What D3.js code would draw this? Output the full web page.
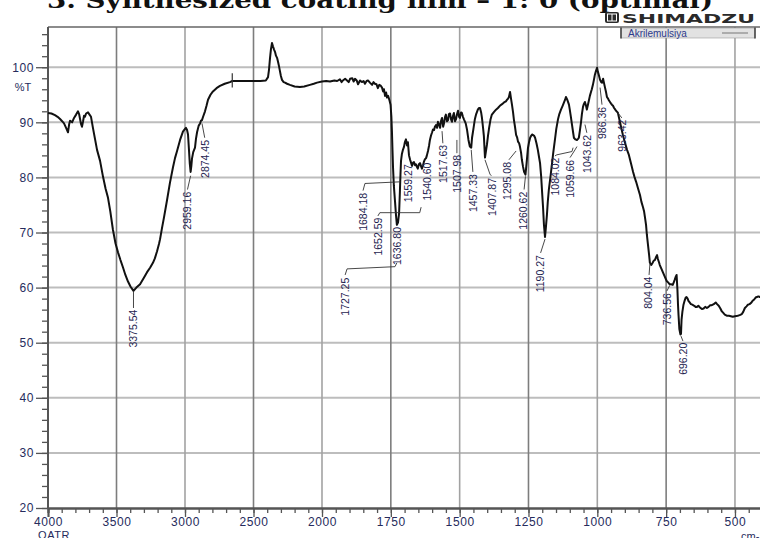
<!DOCTYPE html>
<html><head><meta charset="utf-8">
<script src="https://cdn.jsdelivr.net/npm/d3@7"></script>
<style>
html,body{margin:0;padding:0;background:#fff;}
svg{display:block;}
</style></head>
<body>
<svg id="c" width="760" height="538"></svg>
<script>
// ---------- DATA ----------
const title = "3. Synthesized coating film \u2013 1: 0 (optimal)";
const seriesName = "Akrilemulsiya";
const xMajorTicks = [4000,3500,3000,2500,2000,1750,1500,1250,1000,750,500];
const xMinorTicksHigh = d3.range(4000, 2000, -100);
const xMinorTicksLow = d3.range(2000, 400, -50);
const yMajorTicks = [20,30,40,50,60,70,80,90,100];
const yMinorTicks = d3.range(20, 107, 2);
const xUnitLeft = "QATR";
const xUnitRight = "cm-1";
const yUnit = "%T";
const markerWn = [2655, 96.3, 98.9];

const spectrum = [
[4000,91.7],[3975,91.6],[3949,91.3],[3930,91.0],[3912,90.6],[3897,90.2],[3883,89.8],[3868,89.0],[3854,88.2],[3846,89.6],[3839,90.3],[3824,90.0],[3810,90.8],[3795,91.4],[3781,92.0],[3773,91.5],[3766,90.6],[3759,89.7],[3752,89.2],[3744,90.2],[3737,91.2],[3730,91.0],[3722,91.6],[3708,91.8],[3697,91.4],[3686,91.0],[3679,90.0],[3672,89.0],[3657,87.0],[3642,85.0],[3620,83.0],[3599,80.2],[3580,78.0],[3562,76.3],[3545,73.8],[3526,70.5],[3507,68.0],[3489,66.4],[3471,65.0],[3453,63.7],[3435,62.3],[3416,61.1],[3398,60.2],[3376,59.4],[3355,60.0],[3328,60.6],[3300,61.8],[3277,62.8],[3255,63.6],[3234,64.5],[3220,65.3],[3204,66.6],[3190,67.9],[3182,68.8],[3168,70.8],[3153,72.8],[3131,75.9],[3110,79.0],[3088,81.8],[3073,83.5],[3058,84.8],[3036,86.8],[3015,88.3],[3000,88.8],[2993,89.0],[2985,88.6],[2978,87.8],[2971,85.0],[2965,82.5],[2959,81.0],[2954,82.0],[2949,83.4],[2940,84.6],[2927,85.4],[2920,87.0],[2912,88.2],[2900,89.4],[2890,89.8],[2883,90.3],[2876,90.4],[2868,91.0],[2854,92.0],[2843,93.0],[2832,94.1],[2814,95.0],[2796,95.6],[2770,96.2],[2745,96.6],[2710,97.0],[2672,97.3],[2655,97.5],[2620,97.5],[2562,97.5],[2500,97.5],[2450,97.5],[2410,97.6],[2394,98.2],[2387,99.5],[2380,101.5],[2373,103.2],[2365,104.4],[2358,103.8],[2350,103.2],[2343,102.8],[2336,102.1],[2328,101.7],[2321,101.0],[2314,100.2],[2307,99.3],[2300,98.4],[2292,97.7],[2280,97.3],[2270,97.2],[2255,97.0],[2234,96.8],[2200,96.5],[2161,96.4],[2130,96.5],[2088,96.8],[2060,97.0],[2036,97.2],[2000,97.4],
[1985,97.5],[1971,97.4],[1955,97.6],[1945,97.5],[1935,97.8],[1929,97.3],[1924,97.6],[1916,97.9],[1909,97.6],[1903,97.3],[1898,97.9],[1890,98.0],[1885,97.4],[1880,97.9],[1874,97.6],[1869,96.9],[1862,97.6],[1855,97.3],[1849,97.5],[1844,97.0],[1838,97.5],[1833,97.6],[1826,97.2],[1818,96.8],[1813,97.3],[1808,97.0],[1802,96.9],[1797,96.2],[1792,96.8],[1786,96.6],[1782,96.3],[1778,95.6],[1775,96.0],[1771,94.8],[1767,95.4],[1764,94.5],[1760,94.8],[1755,94.0],[1751,93.2],[1748,91.0],[1746,88.4],[1744,85.0],[1742,81.8],[1739,78.5],[1735,75.8],[1731,73.0],[1728,71.4],[1724,71.8],[1720,73.5],[1717,77.5],[1715,80.5],[1713,83.0],[1710,84.2],[1706,85.0],[1702,85.6],[1699,86.4],[1695,86.9],[1691,85.8],[1688,86.4],[1686,85.2],[1684,84.0],[1680,83.2],[1676,82.6],[1673,82.1],[1669,82.7],[1666,82.8],[1662,82.2],[1659,82.4],[1655,81.9],[1652,81.6],[1648,82.4],[1644,82.6],[1640,82.0],[1637,81.6],[1633,82.2],[1630,82.8],[1626,83.3],[1622,83.5],[1619,84.0],[1615,84.8],[1611,85.8],[1608,86.8],[1604,87.6],[1600,88.2],[1597,88.7],[1593,88.6],[1590,89.2],[1586,89.5],[1582,89.0],[1579,90.1],[1575,89.6],[1571,89.0],[1568,90.2],[1564,90.8],[1560,89.2],[1557,89.8],[1553,91.0],[1550,91.4],[1546,90.2],[1542,90.4],[1539,91.5],[1535,91.6],[1531,90.5],[1528,90.1],[1524,91.2],[1521,91.7],[1517,90.2],[1513,90.6],[1510,91.4],[1506,92.1],[1502,91.0],[1499,90.8],[1495,91.8],[1492,91.7],[1488,91.0],[1484,90.5],[1478,89.8],[1473,88.6],[1468,86.8],[1463,85.6],[1458,85.4],[1455,87.2],[1450,88.8],[1445,90.5],[1440,91.5],[1434,92.3],[1430,92.6],[1426,92.6],[1422,91.8],[1419,90.8],[1415,89.0],[1412,87.5],[1408,83.6],[1405,84.6],[1401,85.9],[1397,87.6],[1393,89.0],[1388,90.5],[1383,91.4],[1375,91.9],[1368,92.3],[1361,92.6],[1354,93.0],[1346,93.3],[1339,93.6],[1332,93.8],[1328,94.1],[1324,94.3],[1321,94.6],[1317,95.5],[1314,94.5],[1310,93.2],[1306,91.8],[1303,90.5],[1299,89.2],[1295,87.7],[1291,87.2],[1288,86.5],[1284,86.2],[1281,85.6],[1277,84.5],[1274,83.2],[1270,82.0],[1266,81.0],[1261,80.5],[1257,82.5],[1252,85.3],[1248,86.4],[1244,87.2],[1241,87.5],[1237,87.8],[1234,87.7],[1230,87.6],[1226,87.2],[1221,86.2],[1216,85.0],[1212,83.8],[1208,82.6],[1204,80.2],[1201,77.7],[1197,74.5],[1194,71.5],[1190,69.2],[1187,70.8],[1183,73.2],[1180,75.5],[1176,77.8],[1170,80.2],[1165,82.3],[1160,84.5],[1154,86.8],[1149,88.8],[1143,90.5],[1138,91.5],[1132,92.3],[1126,93.0],[1121,93.6],[1117,94.1],[1114,94.6],[1110,94.2],[1107,93.8],[1103,93.2],[1100,92.3],[1096,91.0],[1092,89.6],[1088,88.2],[1085,87.2],[1080,86.9],[1074,86.8],[1070,87.0],[1067,87.2],[1063,88.6],[1059,90.1],[1056,91.5],[1052,92.8],[1049,93.3],[1045,93.7],[1041,93.0],[1038,92.3],[1034,93.2],[1030,94.1],[1027,94.8],[1023,95.5],[1020,96.0],[1016,96.8],[1012,97.8],[1009,98.6],[1005,99.3],[1001,99.9],[998,99.2],[994,98.5],[990,97.7],[986,97.3],[983,97.2],[979,97.9],[976,97.2],[972,96.3],[968,95.4],[965,94.6],[961,94.3],[958,94.0],[954,93.7],[950,93.4],[947,93.2],[943,93.0],[939,92.6],[936,92.4],[932,92.1],[928,91.9],[925,91.7],[921,90.8],[918,90.1],[912,88.8],[907,87.7],[900,86.4],[892,85.0],[886,84.2],[881,83.2],[876,82.2],[870,81.0],[865,80.1],[859,79.2],[852,78.0],[845,76.8],[840,75.6],[834,74.6],[830,73.8],[827,72.8],[823,71.4],[820,69.6],[816,67.8],[812,66.0],[809,64.5],[804,64.1],[799,64.5],[795,64.9],[791,65.0],[787,65.5],[783,65.9],[780,65.2],[776,64.6],[773,64.1],[767,63.4],[762,62.8],[755,62.0],[748,61.2],[742,60.9],[737,60.6],[732,60.6],[726,60.5],[722,61.0],[719,61.4],[715,62.0],[712,62.3],[709,59.6],[707,57.0],[705,55.0],[702,52.5],[698,51.5],[696,51.6],[694,54.2],[691,55.6],[687,56.9],[683,57.6],[679,58.2],[676,58.3],[672,58.0],[669,57.6],[666,57.4],[660,57.0],[655,56.9],[648,56.7],[643,56.5],[638,56.5],[633,56.7],[627,56.4],[620,56.1],[614,56.2],[608,56.5],[602,56.3],[596,56.5],[590,56.8],[584,56.8],[577,57.0],[570,57.3],[565,57.0],[559,56.7],[553,56.2],[548,55.7],[544,55.5],[537,55.1],[530,54.9],[522,54.9],[515,54.8],[508,54.7],[500,54.8],[490,54.9],[483,55.0],[475,55.2],[470,55.6],[464,56.3],[458,56.6],[453,56.9],[447,57.0],[442,57.2],[436,57.6],[431,57.8],[425,58.2],[420,58.3],[415,58.4],[410,58.3],[405,58.4]
];

// peak labels: text, label position (wavenumber, %T at text top), leader path
const peakLabels = [
 {text:"3375.54", lx:3378, ly:56.0, leader:[[3376,59.4],[3376,56.3]]},
 {text:"2959.16", lx:2985, ly:77.4, leader:[[2959,80.3],[2982,77.8]]},
 {text:"2874.45", lx:2854, ly:86.8, leader:[[2876,89.8],[2856,87.2]]},
 {text:"1727.25", lx:1916, ly:61.8, leader:[[1728,64.5],[1735,63.8],[1909,63.4],[1916,62.3]]},
 {text:"1684.18", lx:1851, ly:77.2, leader:[[1716,79.2],[1844,78.9],[1851,77.6]]},
 {text:"1652.59", lx:1797, ly:72.7, leader:[[1640,74.6],[1645,73.6],[1790,73.6],[1797,73.0]]},
 {text:"1636.80", lx:1728, ly:71.0, leader:[]},
 {text:"1559.27", lx:1688, ly:82.4, leader:[]},
 {text:"1540.60", lx:1619, ly:82.7, leader:[]},
 {text:"1517.63", lx:1561, ly:85.9, leader:[[1564,88.4],[1561,86.2]]},
 {text:"1507.98", lx:1510, ly:84.1, leader:[[1510,86.8],[1510,84.4]]},
 {text:"1457.33", lx:1452, ly:80.6, leader:[[1458,85.0],[1452,81.0]]},
 {text:"1407.87", lx:1383, ly:79.9, leader:[[1408,83.2],[1390,80.6],[1385,80.3]]},
 {text:"1295.08", lx:1328, ly:82.8, leader:[[1295,84.8],[1321,83.2]]},
 {text:"1260.62", lx:1270, ly:77.4, leader:[[1261,80.2],[1266,77.8]]},
 {text:"1190.27", lx:1208, ly:65.9, leader:[[1190,68.8],[1206,66.3]]},
 {text:"1084.02", lx:1154, ly:83.6, leader:[[1088,85.4],[1092,84.7],[1147,84.1],[1154,83.9]]},
 {text:"1059.66", lx:1099, ly:83.2, leader:[[1074,85.6],[1081,85.0],[1099,83.6]]},
 {text:"1043.62", lx:1038, ly:87.7, leader:[[1045,89.6],[1038,88.1]]},
 {text:"986.36", lx:983, ly:92.8, leader:[[990,96.3],[983,93.2]]},
 {text:"963.42", lx:911, ly:90.5, leader:[[925,91.7],[911,90.8]]},
 {text:"804.04", lx:816, ly:62.0, leader:[[809,64.3],[812,62.3]]},
 {text:"736.56", lx:747, ly:59.0, leader:[[737,60.4],[747,59.4]]},
 {text:"696.20", lx:689, ly:50.0, leader:[[696,51.2],[689,50.3]]}
];

// ---------- LAYOUT ----------
const svg = d3.select("#c");
const L = 48, R = 762.5, T = 27, B = 508;
const x = d3.scaleLinear().domain([4000, 2000, 400]).range([L, 322, R]);
const y = d3.scaleLinear().domain([20, 107.3]).range([B, T]);
const labelColor = "#262b5c";

// grid
const grid = svg.append("g");
grid.selectAll("line.h").data(yMajorTicks.filter(d => d > 20)).enter().append("line")
  .attr("x1", L).attr("x2", 760).attr("y1", d => y(d)).attr("y2", d => y(d))
  .attr("stroke", "#bdbdbd").attr("stroke-width", 2);
grid.selectAll("line.v").data(xMajorTicks.slice(1)).enter().append("line")
  .attr("x1", d => x(d)).attr("x2", d => x(d)).attr("y1", T).attr("y2", B)
  .attr("stroke", (d, i) => (i % 2 === 0 ? "#7d7d7d" : "#a2a2a2")).attr("stroke-width", 1.6);

// frame top
svg.append("line").attr("x1", L).attr("x2", 760).attr("y1", T).attr("y2", T)
  .attr("stroke", "#666").attr("stroke-width", 1.5);

// axes
function styleAxis(g) {
  g.select(".domain").attr("stroke", "#555").attr("stroke-width", 2);
  g.selectAll(".tick line").attr("stroke", "#555").attr("stroke-width", 1.3);
  g.selectAll("text").attr("fill", labelColor)
    .style("font-family", "'Liberation Sans', Arial, sans-serif")
    .style("font-size", "12px").style("letter-spacing", "0.6px");
}
const xMinor = svg.append("g").attr("transform", `translate(0,${B})`)
  .call(d3.axisBottom(x).tickValues(xMinorTicksHigh.concat(xMinorTicksLow)).tickSize(5).tickFormat(""));
styleAxis(xMinor);
const xAxis = svg.append("g").attr("transform", `translate(0,${B})`)
  .call(d3.axisBottom(x).tickValues(xMajorTicks).tickSize(9).tickPadding(0).tickFormat(d3.format("d")));
styleAxis(xAxis);

const yMinor = svg.append("g").attr("transform", `translate(${L},0)`)
  .call(d3.axisLeft(y).tickValues(yMinorTicks).tickSize(6).tickFormat(""));
styleAxis(yMinor);
yMinor.select(".domain").attr("d", `M0,${T}V${B}`);
const yAxis = svg.append("g").attr("transform", `translate(${L},0)`)
  .call(d3.axisLeft(y).tickValues(yMajorTicks).tickSize(12).tickPadding(2));
styleAxis(yAxis);
yAxis.select(".domain").attr("d", `M0,${T}V${B}`);

svg.append("text").attr("x", 23).attr("y", y(96.3)).attr("dy", "0.35em")
  .attr("text-anchor", "middle").attr("fill", labelColor)
  .style("font-family", "'Liberation Sans', Arial, sans-serif").style("font-size", "11px")
  .text(yUnit);
svg.append("text").attr("x", 38).attr("y", 539).attr("fill", labelColor)
  .style("font-family", "'Liberation Sans', Arial, sans-serif").style("font-size", "11px")
  .style("letter-spacing", "0.6px").text(xUnitLeft);
svg.append("text").attr("x", 741).attr("y", 540).attr("fill", labelColor)
  .style("font-family", "'Liberation Sans', Arial, sans-serif").style("font-size", "11px")
  .text(xUnitRight);

// spectrum
const line = d3.line().x(d => x(d[0])).y(d => y(d[1]));
svg.append("path").datum(spectrum).attr("d", line)
  .attr("fill", "none").attr("stroke", "#111").attr("stroke-width", 2)
  .attr("stroke-linejoin", "round");
svg.append("line").attr("x1", x(markerWn[0])).attr("x2", x(markerWn[0]))
  .attr("y1", y(markerWn[1])).attr("y2", y(markerWn[2]))
  .attr("stroke", "#333").attr("stroke-width", 1.2);

// peak labels
const pl = svg.append("g");
const leaderLine = d3.line().x(d => x(d[0])).y(d => y(d[1]));
pl.selectAll("path").data(peakLabels.filter(d => d.leader.length)).enter().append("path")
  .attr("d", d => leaderLine(d.leader)).attr("fill", "none")
  .attr("stroke", "#333").attr("stroke-width", 0.9);
pl.selectAll("text").data(peakLabels).enter().append("text")
  .attr("transform", d => `translate(${x(d.lx)},${y(d.ly)}) rotate(-90)`)
  .attr("text-anchor", "end").attr("dy", "0.36em")
  .attr("fill", "#1e2350")
  .style("font-family", "'Liberation Sans', Arial, sans-serif").style("font-size", "10.5px")
  .text(d => d.text);

// title (partly cut off at top)
svg.append("text").attr("x", 47).attr("y", 8)
  .attr("textLength", 666).attr("lengthAdjust", "spacingAndGlyphs")
  .attr("fill", "#111").style("font-family", "'DejaVu Serif', 'Liberation Serif', serif")
  .style("font-weight", "bold").style("font-size", "23px").text(title);

// SHIMADZU logo
const logo = svg.append("g");
logo.append("rect").attr("x", 605).attr("y", 12).attr("width", 14).attr("height", 11)
  .attr("rx", 2).attr("fill", "#2a2a2a");
logo.append("rect").attr("x", 607.5).attr("y", 14).attr("width", 9).attr("height", 7)
  .attr("fill", "none").attr("stroke", "#fff").attr("stroke-width", 1);
logo.append("line").attr("x1", 612).attr("x2", 612).attr("y1", 14).attr("y2", 21)
  .attr("stroke", "#fff").attr("stroke-width", 1);
logo.append("text").attr("x", 622).attr("y", 23).attr("textLength", 133)
  .attr("lengthAdjust", "spacingAndGlyphs").attr("fill", "#2a2a2a")
  .style("font-family", "'DejaVu Sans', sans-serif").style("font-weight", "bold")
  .style("font-size", "13px").text("SHIMADZU");

// legend
const lg = svg.append("g");
lg.append("rect").attr("x", 621).attr("y", 28).attr("width", 134).attr("height", 10)
  .attr("fill", "#e2e2e2").attr("stroke", "#9a9a9a").attr("stroke-width", 0.6);
lg.append("line").attr("x1", 621).attr("x2", 621).attr("y1", 27.5).attr("y2", 38.5)
  .attr("stroke", "#333").attr("stroke-width", 1.4);
lg.append("line").attr("x1", 755).attr("x2", 755).attr("y1", 27.5).attr("y2", 38.5)
  .attr("stroke", "#333").attr("stroke-width", 1.4);
lg.append("text").attr("x", 628).attr("y", 36.5).attr("fill", "#2d3a8c")
  .style("font-family", "'Liberation Sans', Arial, sans-serif").style("font-size", "10px")
  .text(seriesName);
lg.append("line").attr("x1", 722).attr("x2", 748).attr("y1", 33).attr("y2", 33)
  .attr("stroke", "#777").attr("stroke-width", 1);
</script>
</body></html>
